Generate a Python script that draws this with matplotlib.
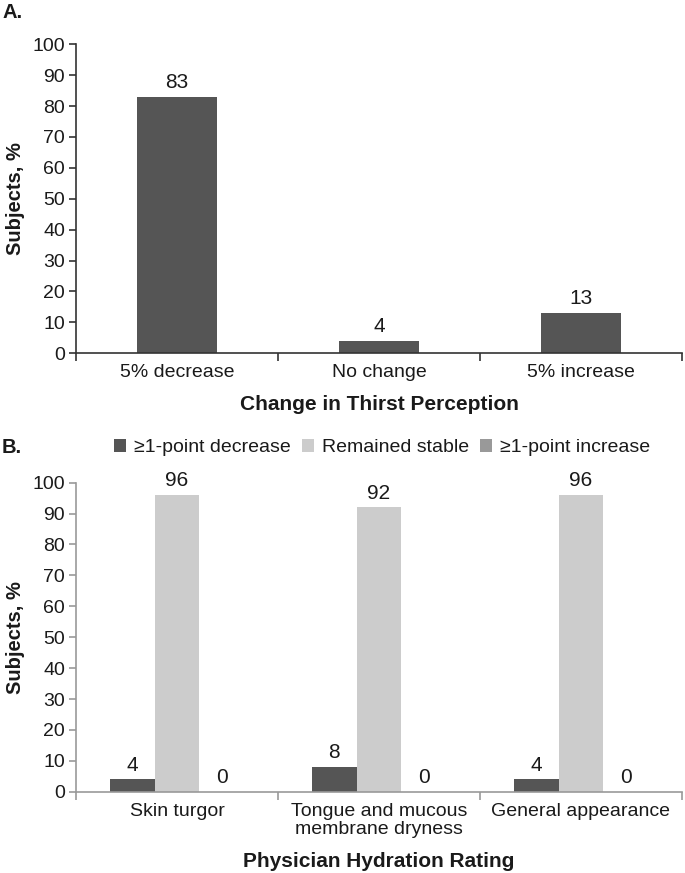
import numpy as np
import matplotlib.pyplot as plt
from matplotlib.patches import Patch

plt.rcParams['font.family'] = ['Liberation Sans', 'DejaVu Sans']

# panel A data
thirst_cats = ['5% decrease', 'No change', '5% increase']
thirst_vals = [83, 4, 13]

# panel B data
rating_cats = ['Skin turgor', 'Tongue and mucous\nmembrane dryness', 'General appearance']
series_names = ['\u22651-point decrease', 'Remained stable', '\u22651-point increase']
decrease_vals = [4, 8, 4]
stable_vals = [96, 92, 96]
increase_vals = [0, 0, 0]

dark = '#555555'
light = '#cccccc'
mid = '#999999'
txt = '#1a1a1a'

fig = plt.figure(figsize=(6.85, 8.73), dpi=100)
axA = fig.add_axes([0.111, 0.5953, 0.8846, 0.354])
axB = fig.add_axes([0.111, 0.0931, 0.8846, 0.354])


def style_axis(ax, spine_color):
    ax.set_ylim(0, 100)
    ax.set_yticks(range(0, 101, 10))
    ax.set_xlim(-0.5, 2.5)
    ax.set_xticks([-0.5, 0.5, 1.5, 2.5])
    ax.set_xticklabels([])
    ax.set_xticks([0, 1, 2], minor=True)
    for s in ['top', 'right']:
        ax.spines[s].set_visible(False)
    for s in ['left', 'bottom']:
        ax.spines[s].set_color(spine_color)
        ax.spines[s].set_linewidth(1.2)
    ax.tick_params(axis='y', which='major', length=5, width=1.2, color=spine_color,
                   labelsize=14, labelcolor=txt, pad=3)
    ax.tick_params(axis='x', which='major', length=6, width=1.2, color=spine_color, direction='out')
    ax.tick_params(axis='x', which='minor', length=0, labelsize=14, labelcolor=txt, pad=8)
    ax.set_ylabel('Subjects, %', fontsize=14.5, fontweight='bold', color=txt, labelpad=5)


# Panel A
x = np.arange(len(thirst_cats))
axA.bar(x, thirst_vals, width=0.4, color=dark)
style_axis(axA, '#333333')
axA.set_xticklabels(thirst_cats, minor=True)
for xi, v in zip(x, thirst_vals):
    axA.text(xi, v + 1.5, str(v), ha='center', va='bottom', fontsize=15, color=txt)
axA.set_xlabel('Change in Thirst Perception', fontsize=15, fontweight='bold', color=txt, labelpad=10)

# Panel B
w = 0.222
colors = [dark, light, mid]
for i, vals in enumerate([decrease_vals, stable_vals, increase_vals]):
    pos = x + (i - 1) * w
    axB.bar(pos, vals, width=w, color=colors[i])
    for p, v in zip(pos, vals):
        axB.text(p, v + 1.5, str(v), ha='center', va='bottom', fontsize=15, color=txt)
style_axis(axB, '#999999')
axB.set_xticklabels(rating_cats, minor=True, va='top', linespacing=1.1)
axB.set_xlabel('Physician Hydration Rating', fontsize=15, fontweight='bold', color=txt, labelpad=10)

handles = [Patch(facecolor=c, edgecolor='none') for c in colors]
fig.legend(handles, series_names, loc='center', bbox_to_anchor=(0.558, 0.487), ncol=3,
           frameon=False, fontsize=14, handlelength=0.6, handleheight=0.6,
           handletextpad=0.4, columnspacing=0.6, labelcolor=txt)

fig.text(0.003, 0.986, 'A.', fontsize=14.5, fontweight='bold', color=txt, va='center')
fig.text(0.003, 0.487, 'B.', fontsize=14.5, fontweight='bold', color=txt, va='center')

fig.savefig('out.png', dpi=100)
